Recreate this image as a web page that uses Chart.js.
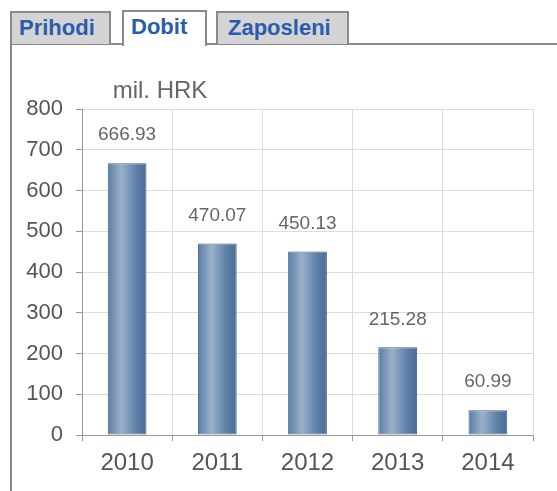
<!DOCTYPE html>
<html>
<head>
<meta charset="utf-8">
<script src="https://cdn.jsdelivr.net/npm/chart.js@4.4.1/dist/chart.umd.min.js"></script>
<style>
  body { margin: 0; background: #fff; font-family: "Liberation Sans", Arial, sans-serif; }
  #wrap { position: relative; width: 557px; height: 491px; overflow: hidden; }
  .tab { position: absolute; top: 11px; height: 33px; box-sizing: border-box;
         border: 2px solid #8a8a8a; border-bottom: none; background: #d4d4d4;
         color: #2a5cad; font-weight: bold; font-size: 22px; line-height: 30px; padding-left: 7px; }
  .tab.active { background: #fff; height: 36px; top: 10px; z-index: 2; }
  #panel { position: absolute; left: 10px; top: 43px; width: 560px; height: 460px;
           border-top: 2px solid #8a8a8a; border-left: 2px solid #8a8a8a; box-sizing: border-box; }
  canvas { position: absolute; left: 0; top: 0; }
</style>
</head>
<body>
<div id="wrap">
  <div id="panel"></div>
  <div class="tab" style="left:10px;width:101px;">Prihodi</div>
  <div class="tab active" style="left:122px;width:85px;padding-left:7px;">Dobit</div>
  <div class="tab" style="left:216px;width:133px;padding-left:10px;">Zaposleni</div>
  <canvas id="c" width="557" height="491"></canvas>
</div>
<script>
// data
var years = ['2010', '2011', '2012', '2013', '2014'];
var dobit = [666.93, 470.07, 450.13, 215.28, 60.99];
var unitLabel = 'mil. HRK';

var barPct = 0.43;
var fontFam = '"Liberation Sans", Arial, sans-serif';

function barFill(ctx) {
  var chart = ctx.chart;
  if (!chart.chartArea) return '#6a8ab0';
  var xs = chart.scales.x;
  var cx = xs.getPixelForValue(ctx.dataIndex);
  var w = (chart.chartArea.right - chart.chartArea.left) / years.length * barPct;
  var g = chart.ctx.createLinearGradient(cx - w / 2, 0, cx + w / 2, 0);
  g.addColorStop(0, '#587ca6');
  g.addColorStop(0.35, '#9bb1c9');
  g.addColorStop(0.75, '#5c7ea8');
  g.addColorStop(1, '#4a6c95');
  return g;
}

var labelsPlugin = {
  id: 'valueLabels',
  afterDatasetsDraw: function (chart) {
    var c = chart.ctx;
    var meta = chart.getDatasetMeta(0);
    c.save();
    c.fillStyle = '#666';
    c.font = '19px ' + fontFam;
    c.textAlign = 'center';
    c.textBaseline = 'middle';
    meta.data.forEach(function (bar, i) {
      c.fillText(dobit[i].toFixed(2), bar.x, bar.y - 28);
    });
    c.font = '24px ' + fontFam;
    c.fillText(unitLabel, 160, 91);
    c.restore();
  }
};

new Chart(document.getElementById('c'), {
  type: 'bar',
  data: {
    labels: years,
    datasets: [{
      data: dobit,
      backgroundColor: barFill,
      borderColor: '#3f628c',
      borderWidth: 1,
      borderSkipped: false,
      barPercentage: barPct,
      categoryPercentage: 1
    }]
  },
  options: {
    responsive: false,
    animation: false,
    layout: { padding: { left: 0, right: 24, top: 109, bottom: 0 } },
    plugins: { legend: { display: false }, tooltip: { enabled: false } },
    scales: {
      x: {
        afterFit: function (s) { s.height = 56; },
        grid: { offset: true, color: '#dcdcdc', tickColor: '#999', tickLength: 6 },
        border: { color: '#999', width: 1 },
        ticks: { color: '#555', font: { size: 24, family: fontFam }, padding: 8 }
      },
      y: {
        min: 0, max: 800,
        afterFit: function (s) { s.width = 82; },
        grid: { color: '#dcdcdc', tickColor: '#999', tickLength: 6 },
        border: { color: '#999', width: 1 },
        ticks: { stepSize: 100, color: '#555', font: { size: 22, family: fontFam }, padding: 13 }
      }
    }
  },
  plugins: [labelsPlugin]
});
</script>
</body>
</html>
